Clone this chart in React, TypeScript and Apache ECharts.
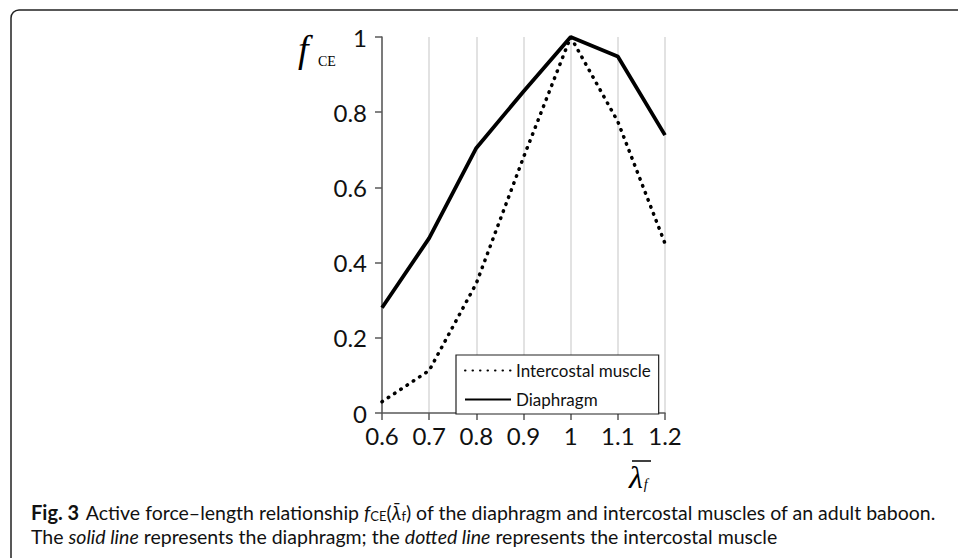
import React, { useEffect, useRef } from "react";
import * as echarts from "echarts";

const xValues = [0.6, 0.7, 0.8, 0.9, 1.0, 1.1, 1.2];
const diaphragm = [0.28, 0.465, 0.705, 0.855, 1.0, 0.948, 0.739];
const intercostal = [0.03, 0.113, 0.345, 0.68, 1.0, 0.775, 0.451];
const seriesNames = ["Intercostal muscle", "Diaphragm"];

export default function App() {
  const ref = useRef<HTMLDivElement>(null);
  useEffect(() => {
    if (!ref.current) return;
    const chart = echarts.init(ref.current, null, { renderer: "svg" });
    const pairs = (ys: number[]) => xValues.map((x, i) => [x, ys[i]]);
    const font = "Lato, Noto Sans, sans-serif";
    const serif = "Liberation Serif, DejaVu Serif, serif";
    chart.setOption({
      animation: false,
      backgroundColor: "#fff",
      grid: { left: 382, top: 37, right: 293, bottom: 145, containLabel: false },
      xAxis: {
        type: "value",
        min: 0.6,
        max: 1.2,
        interval: 0.1,
        axisLine: { show: true, lineStyle: { color: "#595959", width: 1.5 } },
        axisTick: { show: true, inside: false, length: 7, lineStyle: { color: "#595959", width: 1.5 } },
        axisLabel: { fontSize: 24, color: "#111", fontFamily: font, margin: 10 },
        splitLine: { show: true, lineStyle: { color: "#d9d9d9", width: 1.5 } },
      },
      yAxis: {
        type: "value",
        min: 0,
        max: 1,
        interval: 0.2,
        axisLine: { show: true, lineStyle: { color: "#595959", width: 1.5 } },
        axisTick: { show: true, inside: false, length: 7, lineStyle: { color: "#595959", width: 1.5 } },
        axisLabel: { fontSize: 24, color: "#111", fontFamily: font, margin: 15 },
        splitLine: { show: false },
      },
      legend: {
        orient: "vertical",
        left: 456,
        top: 355,
        data: seriesNames,
        itemWidth: 46,
        itemHeight: 14,
        itemGap: 12,
        padding: [7, 8, 6, 8],
        backgroundColor: "#fff",
        borderColor: "#222",
        borderWidth: 1.2,
        borderRadius: 0,
        itemStyle: { color: "transparent", borderWidth: 0, opacity: 0 },
        textStyle: { fontSize: 17, color: "#111", fontFamily: font },
        z: 10,
      },
      series: [
        {
          name: seriesNames[0],
          type: "line",
          data: pairs(intercostal),
          symbol: "none",
          lineStyle: { color: "#000", width: 3.5, type: [0.5, 7], cap: "round" },
          itemStyle: { color: "#000" },
          z: 3,
        },
        {
          name: seriesNames[1],
          type: "line",
          data: pairs(diaphragm),
          symbol: "none",
          lineStyle: { color: "#000", width: 3.8 },
          itemStyle: { color: "#000" },
          z: 4,
        },
      ],
      graphic: [
        {
          type: "rect",
          shape: { x: 11, y: 10, width: 1000, height: 600, r: [8, 0, 0, 0] },
          style: { fill: "none", stroke: "#222", lineWidth: 1.5 },
          silent: true,
        },
        {
          type: "text",
          x: 298,
          y: 30,
          style: {
            text: "{f|f}",
            verticalAlign: "top",
            rich: {
              f: { fontFamily: serif, fontStyle: "italic", fontSize: 38, fill: "#000" },
            },
          },
        },
        {
          type: "text",
          x: 318,
          y: 54,
          style: {
            text: "{c|CE}",
            verticalAlign: "top",
            rich: {
              c: { fontFamily: serif, fontSize: 14, fill: "#000" },
            },
          },
        },
        {
          type: "text",
          x: 629,
          y: 461,
          style: {
            text: "{l|λ}{s|f}",
            verticalAlign: "top",
            rich: {
              l: { fontFamily: serif, fontStyle: "italic", fontSize: 32, fill: "#000" },
              s: { fontFamily: serif, fontStyle: "italic", fontSize: 14, fill: "#000", padding: [14, 0, 0, 1] },
            },
          },
        },
        {
          type: "line",
          shape: { x1: 632, y1: 461, x2: 651, y2: 461 },
          style: { stroke: "#000", lineWidth: 1.5 },
        },
        {
          type: "text",
          x: 31,
          y: 500,
          style: {
            text:
              "{b|Fig. 3}  {n|Active force–length relationship }{i|f}{sub|CE}{n|(}{i|λ̄}{sub|f}{n|) of the diaphragm and intercostal muscles of an adult baboon.}\n{n|The }{i|solid line}{n| represents the diaphragm; the }{i|dotted line}{n| represents the intercostal muscle}",
            verticalAlign: "top",
            align: "left",
            lineHeight: 24,
            rich: {
              b: { fontFamily: font, fontWeight: "bold", fontSize: 20, fill: "#111", lineHeight: 24 },
              n: { fontFamily: font, fontSize: 19.5, fill: "#111", lineHeight: 24 },
              i: { fontFamily: font, fontStyle: "italic", fontSize: 19.5, fill: "#111", lineHeight: 24 },
              sub: { fontFamily: font, fontSize: 13, fill: "#111", lineHeight: 24, padding: [7, 0, 0, 0] },
            },
          },
        },
      ],
    });
    return () => chart.dispose();
  }, []);
  return (
    <div
      ref={ref}
      style={{ position: "absolute", left: 0, top: 0, width: 958, height: 558, background: "#fff" }}
    />
  );
}
